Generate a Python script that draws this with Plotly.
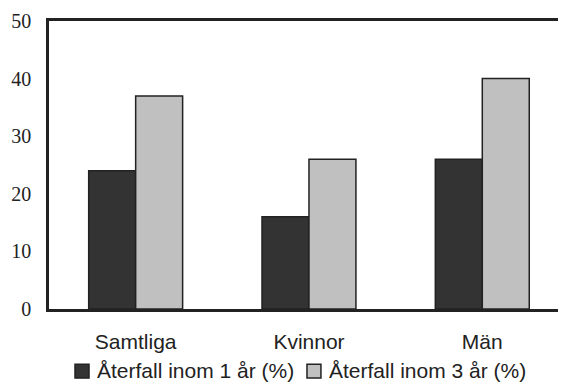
import plotly.graph_objects as go

# data
kategorier = ['Samtliga', 'Kvinnor', 'Män']
ett_ar = [24, 16, 26]
tre_ar = [37, 26, 40]
serier = ['Återfall inom 1 år (%)', 'Återfall inom 3 år (%)']
farger = ['#333333', '#c0c0c0']

fig = go.Figure()

for namn, varden, farg in zip(serier, [ett_ar, tre_ar], farger):
    fig.add_trace(go.Bar(
        x=kategorier, y=varden,
        name=namn,
        marker=dict(color=farg, line=dict(color='#222222', width=1.5))
    ))

# plotly's legend pushes the margins, so the legend is drawn by hand
# (squares + text) below the axis
legend_x = [(0.0503, 0.0774, 0.089), (0.499, 0.526, 0.5377)]
for namn, farg, (x0, x1, xt) in zip(serier, farger, legend_x):
    fig.add_shape(
        type='rect', xref='paper', yref='paper',
        x0=x0, x1=x1, y0=-0.24, y1=-0.192,
        fillcolor=farg, line=dict(color='#222222', width=1.5)
    )
    fig.add_annotation(
        x=xt, y=-0.215, xref='paper', yref='paper',
        xanchor='left', yanchor='middle',
        text=namn, showarrow=False,
        font=dict(family='Liberation Sans', size=21, color='#222222')
    )

# the page body has an 8px margin, so the figure is 8px smaller than the window
fig.update_layout(
    width=558, height=375,
    margin=dict(l=41, r=0, t=13, b=74),
    paper_bgcolor='white',
    plot_bgcolor='white',
    barmode='group',
    bargap=0.458,
    bargroupgap=0,
    showlegend=False,
    xaxis=dict(
        range=[-0.5, 2.483],
        showline=True, linecolor='#222222', linewidth=2.5, mirror=True,
        showgrid=False, ticks='',
        tickfont=dict(family='Liberation Sans', size=21, color='#222222'),
        ticklabelstandoff=12,
    ),
    yaxis=dict(
        range=[0, 50], tickvals=[0, 10, 20, 30, 40, 50],
        showline=True, linecolor='#222222', linewidth=2.5, mirror=False,
        showgrid=False, zeroline=False, ticks='',
        tickfont=dict(family='Liberation Serif', size=20, color='#222222'),
        ticklabelstandoff=11,
    ),
)

fig.write_html("out.html")
